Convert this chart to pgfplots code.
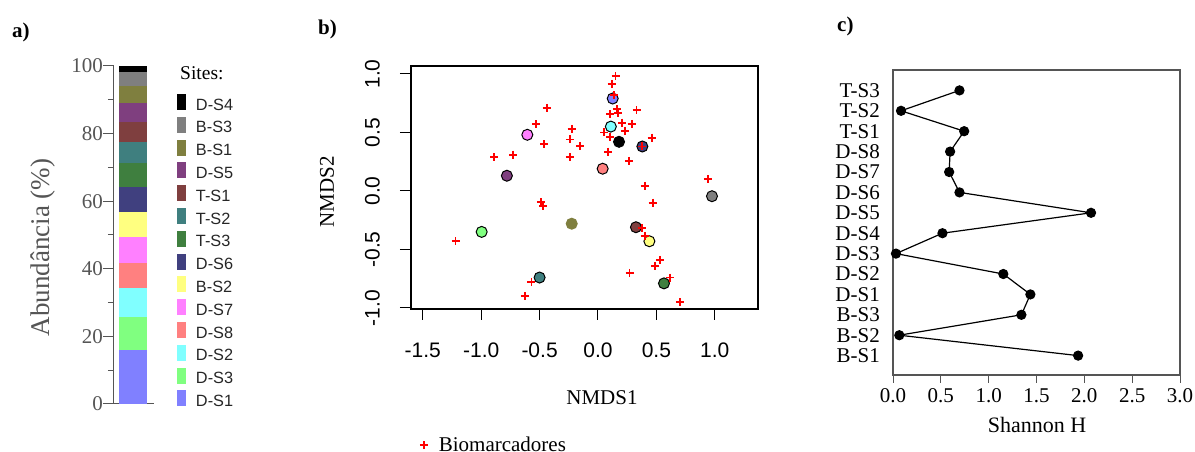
\documentclass[border=0pt]{standalone}
\usepackage{fontspec}
\setmainfont{Liberation Serif}
\setsansfont{Liberation Sans}
\usepackage{pgfplots}
\pgfplotsset{compat=1.18}
\definecolor{cDa}{HTML}{8080FF}% D-S1
\definecolor{cDc}{HTML}{80FF80}% D-S3
\definecolor{cDb}{HTML}{80FFFF}% D-S2
\definecolor{cDh}{HTML}{FF8080}% D-S8
\definecolor{cDg}{HTML}{FF80FF}% D-S7
\definecolor{cBb}{HTML}{FFFF80}% B-S2
\definecolor{cDf}{HTML}{40407F}% D-S6
\definecolor{cTc}{HTML}{3F7F3F}% T-S3
\definecolor{cTb}{HTML}{3F7F7F}% T-S2
\definecolor{cTa}{HTML}{7F3F3F}% T-S1
\definecolor{cDe}{HTML}{7F3F7F}% D-S5
\definecolor{cBa}{HTML}{7F7F3F}% B-S1
\definecolor{cBc}{HTML}{7F7F7F}% B-S3
\definecolor{cDd}{HTML}{000000}% D-S4
\definecolor{axgray}{HTML}{555555}
\definecolor{xred}{HTML}{FF0000}
\pgfplotsset{
  barlegend/.style={legend image code/.code={\fill[##1] (0pt,0pt) rectangle (9pt,16pt); \path (0pt,-6.8pt) (19pt,0pt);}},
  crosslegend/.style={legend image code/.code={\draw[xred, line width=1.8pt, mark=+, mark size=4pt, mark options={solid, draw=xred, line width=1.8pt}] plot coordinates {(4pt,6pt)}; \path (0pt,0pt) (18pt,0pt);}},
}
\begin{document}
\begin{tikzpicture}
\useasboundingbox (0pt,0pt) rectangle (1195pt,452pt);
% ---------------- panel a ----------------
\begin{axis}[
  at={(114pt,48pt)}, anchor=south west, scale only axis,
  width=40pt, height=338pt,
  xmin=0, xmax=1, ymin=0, ymax=100,
  axis x line=bottom, axis y line=left,
  axis line style={-, color=axgray, line width=1pt},
  xtick=\empty, ytick={0,20,...,100}, minor ytick={10,30,...,90},
  tick align=outside, major tick length=11pt, minor tick length=6pt,
  tick style={color=axgray, line width=1pt},
  /pgf/number format/assume math mode=true,
  yticklabel style={font=\fontsize{21}{24}\selectfont, color=axgray, inner sep=0pt, anchor=east},
  ybar stacked, bar width=28pt,
  ylabel={Abundância (\%)},
  ylabel style={at={(axis description cs:-1.775,0.463)}, anchor=center, font=\fontsize{27}{30}\selectfont, color=axgray},
  reverse legend, barlegend,
  legend style={at={(axis description cs:1.575,0.917)}, anchor=north west, draw=none, fill=none,
    inner sep=0pt, outer sep=0pt, row sep=0pt,
    font=\sffamily\fontsize{16.3}{18}\selectfont, text=black!85,
    nodes={inner sep=0pt, anchor=base west}},
]
\addplot[fill=cDa, draw=none] coordinates {(0.475,16.1)}; \addlegendentry{D-S1}
\addplot[fill=cDc, draw=none] coordinates {(0.475,9.7)}; \addlegendentry{D-S3}
\addplot[fill=cDb, draw=none] coordinates {(0.475,8.5)}; \addlegendentry{D-S2}
\addplot[fill=cDh, draw=none] coordinates {(0.475,7.3)}; \addlegendentry{D-S8}
\addplot[fill=cDg, draw=none] coordinates {(0.475,7.9)}; \addlegendentry{D-S7}
\addplot[fill=cBb, draw=none] coordinates {(0.475,7.3)}; \addlegendentry{B-S2}
\addplot[fill=cDf, draw=none] coordinates {(0.475,7.3)}; \addlegendentry{D-S6}
\addplot[fill=cTc, draw=none] coordinates {(0.475,7.1)}; \addlegendentry{T-S3}
\addplot[fill=cTb, draw=none] coordinates {(0.475,6.3)}; \addlegendentry{T-S2}
\addplot[fill=cTa, draw=none] coordinates {(0.475,5.9)}; \addlegendentry{T-S1}
\addplot[fill=cDe, draw=none] coordinates {(0.475,5.7)}; \addlegendentry{D-S5}
\addplot[fill=cBa, draw=none] coordinates {(0.475,4.9)}; \addlegendentry{B-S1}
\addplot[fill=cBc, draw=none] coordinates {(0.475,4.1)}; \addlegendentry{B-S3}
\addplot[fill=cDd, draw=none] coordinates {(0.475,2.0)}; \addlegendentry{D-S4}
\end{axis}
\node[anchor=base west, inner sep=0pt, font=\fontsize{19.5}{22}\selectfont] at (180pt,372pt) {Sites:};
% ---------------- panel b ----------------
\begin{axis}[
  at={(411pt,143pt)}, anchor=south west, scale only axis,
  width=347pt, height=243pt,
  xmin=-1.601, xmax=1.370, ymin=-1.009, ymax=1.068,
  xtick={-1.5,-1,-0.5,0,0.5,1}, ytick={-1,-0.5,0,0.5,1},
  xtick pos=bottom, ytick pos=left,
  tick align=outside, major tick length=11pt,
  tick style={black, line width=1pt}, axis line style={black, line width=1.2pt},
  /pgf/number format/.cd, fixed, fixed zerofill, precision=1, assume math mode=true, /pgfplots/.cd,
  tick label style={font=\sffamily\fontsize{21}{24}\selectfont},
  yticklabel style={rotate=90, anchor=south, inner sep=0pt}, yticklabel shift=20pt,
  xticklabel style={anchor=north, inner sep=0pt}, xticklabel shift=23pt,
  xlabel={NMDS1}, ylabel={NMDS2},
  xlabel style={at={(axis description cs:0.5504,-0.366)}, anchor=center, font=\fontsize{21}{24}\selectfont},
  ylabel style={at={(axis description cs:-0.242,0.4815)}, anchor=center, font=\fontsize{21}{24}\selectfont},
  legend style={at={(axis description cs:0.0231,-0.5255)}, anchor=north west, draw=none, fill=none,
    inner sep=0pt, outer sep=0pt, font=\fontsize{21}{24}\selectfont,
    nodes={inner sep=0pt, anchor=base west}},
]
\addplot[scatter, only marks, scatter src=explicit symbolic, mark=*, mark size=5.5pt, line width=1pt, forget plot,
  scatter/classes={
    DSa={mark=*, draw=black, fill=cDa},
    DSb={mark=*, draw=black, fill=cDb},
    DSc={mark=*, draw=black, fill=cDc},
    DSd={mark=*, draw=black, fill=black},
    DSe={mark=*, draw=black, fill=cDe},
    DSf={mark=*, draw=black, fill=cDf},
    DSg={mark=*, draw=black, fill=cDg},
    DSh={mark=*, draw=black, fill=cDh},
    BSa={mark=*, draw=cBa, fill=cBa},
    BSb={mark=*, draw=black, fill=cBb},
    BSc={mark=*, draw=black, fill=cBc},
    TSa={mark=*, draw=black, fill=cTa},
    TSb={mark=*, draw=black, fill=cTb},
    TSc={mark=*, draw=black, fill=cTc}}]
  table[meta=c] {
x y c
0.126 0.79 DSa
0.110 0.55 DSb
-0.996 -0.35 DSc
0.180 0.42 DSd
-0.780 0.13 DSe
0.380 0.38 DSf
-0.605 0.48 DSg
0.040 0.19 DSh
-0.225 -0.28 BSa
0.440 -0.43 BSb
0.976 -0.045 BSc
0.325 -0.31 TSa
-0.500 -0.74 TSb
0.565 -0.79 TSc
};
\addplot[only marks, mark=+, color=xred, mark size=4pt, line width=1.8pt,
  mark options={solid, draw=xred, line width=1.8pt}, crosslegend]
  table {
x y
0.150 0.98
0.117 0.915
0.137 0.82
-0.440 0.71
-0.530 0.57
0.103 0.655
0.165 0.70
0.174 0.664
0.330 0.69
0.208 0.584
0.288 0.573
0.231 0.515
0.054 0.50
0.103 0.464
-0.225 0.53
-0.240 0.44
-0.154 0.385
-0.460 0.40
-0.890 0.29
-0.725 0.31
-0.240 0.29
0.088 0.336
0.460 0.455
0.265 0.256
0.380 0.38
0.940 0.10
0.400 0.043
0.468 -0.10
-0.490 -0.097
-0.470 -0.13
0.377 -0.32
0.400 -0.385
-1.220 -0.43
0.530 -0.59
0.490 -0.64
0.270 -0.70
0.616 -0.74
-0.570 -0.78
-0.625 -0.90
0.700 -0.95
};
\addlegendentry{Biomarcadores}
\end{axis}
% ---------------- panel c ----------------
\begin{axis}[
  at={(893pt,77pt)}, anchor=south west, scale only axis,
  width=287pt, height=305pt,
  xmin=0, xmax=3, ymin=0.05, ymax=15,
  xtick={0,0.5,...,3}, ytick={1,...,14},
  yticklabels={B-S1,B-S2,B-S3,D-S1,D-S2,D-S3,D-S4,D-S5,D-S6,D-S7,D-S8,T-S1,T-S2,T-S3},
  xtick pos=bottom, ytick pos=left,
  tick align=outside, major tick length=8pt,
  xtick style={color=axgray, line width=1pt}, ytick style={draw=none},
  axis line style={color=axgray, line width=1.2pt},
  /pgf/number format/.cd, fixed, fixed zerofill, precision=1, assume math mode=true, /pgfplots/.cd,
  tick label style={font=\fontsize{21}{24}\selectfont},
  yticklabel style={anchor=east, inner sep=0pt}, yticklabel shift=5pt,
  xticklabel style={anchor=north, inner sep=0pt}, xticklabel shift=5pt,
  xlabel={Shannon H},
  xlabel style={at={(axis description cs:0.502,-0.164)}, anchor=center, font=\fontsize{22}{25}\selectfont},
]
\addplot[black, line width=1.2pt, mark=*, mark size=4.5pt] table {
x y
1.935 1
0.066 2
1.342 3
1.436 4
1.153 5
0.031 6
0.517 7
2.070 8
0.695 9
0.587 10
0.597 11
0.744 12
0.084 13
0.695 14
};
\end{axis}
% panel letters
\node[anchor=base west, inner sep=0pt, font=\bfseries\fontsize{21}{24}\selectfont] at (12pt,414pt) {a)};
\node[anchor=base west, inner sep=0pt, font=\bfseries\fontsize{21}{24}\selectfont] at (318pt,417pt) {b)};
\node[anchor=base west, inner sep=0pt, font=\bfseries\fontsize{21}{24}\selectfont] at (837pt,420pt) {c)};
\end{tikzpicture}
\end{document}
